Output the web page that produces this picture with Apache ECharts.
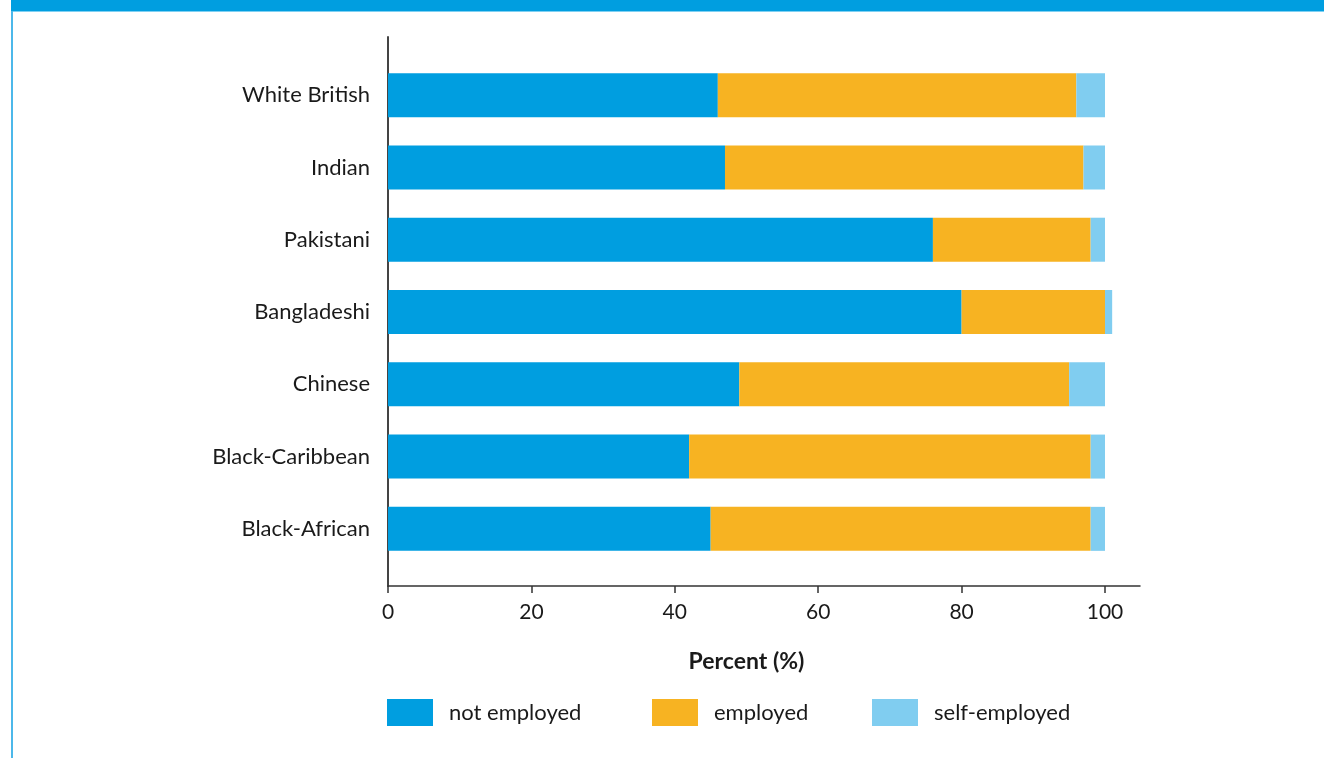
<!DOCTYPE html>
<html>
<head>
<meta charset="utf-8">
<script src="https://cdn.jsdelivr.net/npm/echarts@6/dist/echarts.min.js"></script>
<style>
  html, body { margin: 0; padding: 0; background: #fff; }
  #chart { width: 1324px; height: 758px; }
</style>
</head>
<body>
<div id="chart"></div>
<script>
// Employment status by ethnic group (percent)
const categories = ['White British', 'Indian', 'Pakistani', 'Bangladeshi', 'Chinese', 'Black-Caribbean', 'Black-African'];
const notEmployed = [46, 47, 76, 80, 49, 42, 45];
const employed = [50, 50, 22, 20, 46, 56, 53];
const selfEmployed = [4, 3, 2, 1, 5, 2, 2];
const seriesNames = ['not employed', 'employed', 'self-employed'];
const tickValues = [0, 20, 40, 60, 80, 100];

const colors = ['#009ee0', '#f7b322', '#80cdf0'];
const font = 'Lato, "Open Sans", sans-serif';
const textColor = '#1a1a1a';

const chart = echarts.init(document.getElementById('chart'));

function barSeries(name, values, i) {
  return {
    name: name,
    type: 'bar',
    stack: 'total',
    xAxisIndex: 0,
    yAxisIndex: 0,
    barWidth: 44,
    clip: false,
    itemStyle: { color: colors[i] },
    emphasis: { disabled: true },
    data: values
  };
}

function legendAt(left, i) {
  return {
    data: [seriesNames[i]],
    left: left,
    top: 699,
    padding: 0,
    itemWidth: 46,
    itemHeight: 27,
    icon: 'rect',
    selectedMode: false,
    textStyle: { fontFamily: font, fontSize: 22, color: textColor, padding: [0, 0, 0, 11] }
  };
}

chart.setOption({
  animation: false,
  backgroundColor: '#ffffff',
  color: colors,
  graphic: [
    { type: 'rect', shape: { x: 11, y: 0, width: 1313, height: 11 }, style: { fill: '#009ee0' }, silent: true },
    { type: 'rect', shape: { x: 11, y: 11, width: 1313, height: 1 }, style: { fill: '#7fd0f2' }, silent: true },
    { type: 'rect', shape: { x: 11, y: 11, width: 2, height: 747 }, style: { fill: '#4cb8ea' }, silent: true }
  ],
  legend: [legendAt(387, 0), legendAt(652, 1), legendAt(872, 2)],
  grid: [
    // bars, with the 0-100 scale
    { left: 388, top: 59, width: 717, height: 506 },
    // axis frame, extended slightly past the 100 mark
    { left: 388, top: 37, width: 752, height: 549 }
  ],
  xAxis: [
    {
      gridIndex: 0,
      type: 'value',
      min: 0,
      max: tickValues[tickValues.length - 1],
      interval: 20,
      offset: 21,
      axisLine: { show: false },
      axisTick: { show: true, length: 7, lineStyle: { color: '#333', width: 1.5 } },
      axisLabel: { fontFamily: font, fontSize: 21, color: textColor, margin: 16 },
      splitLine: { show: false },
      name: 'Percent (%)',
      nameLocation: 'middle',
      nameGap: 64,
      nameTextStyle: { fontFamily: font, fontSize: 23, fontWeight: 'bold', color: textColor }
    },
    {
      gridIndex: 1,
      type: 'value',
      min: 0,
      max: 105,
      axisLine: { show: true, lineStyle: { color: '#333', width: 1.5 } },
      axisTick: { show: false },
      axisLabel: { show: false },
      splitLine: { show: false }
    }
  ],
  yAxis: [
    {
      gridIndex: 0,
      type: 'category',
      inverse: true,
      data: categories,
      axisLine: { show: false },
      axisTick: { show: false },
      axisLabel: { fontFamily: font, fontSize: 22, color: textColor, margin: 18 },
      splitLine: { show: false }
    },
    {
      gridIndex: 1,
      type: 'value',
      min: 0,
      max: 1,
      axisLine: { show: true, lineStyle: { color: '#444', width: 2 } },
      axisTick: { show: false },
      axisLabel: { show: false },
      splitLine: { show: false }
    }
  ],
  series: [
    barSeries(seriesNames[0], notEmployed, 0),
    barSeries(seriesNames[1], employed, 1),
    barSeries(seriesNames[2], selfEmployed, 2)
  ]
});
</script>
</body>
</html>
